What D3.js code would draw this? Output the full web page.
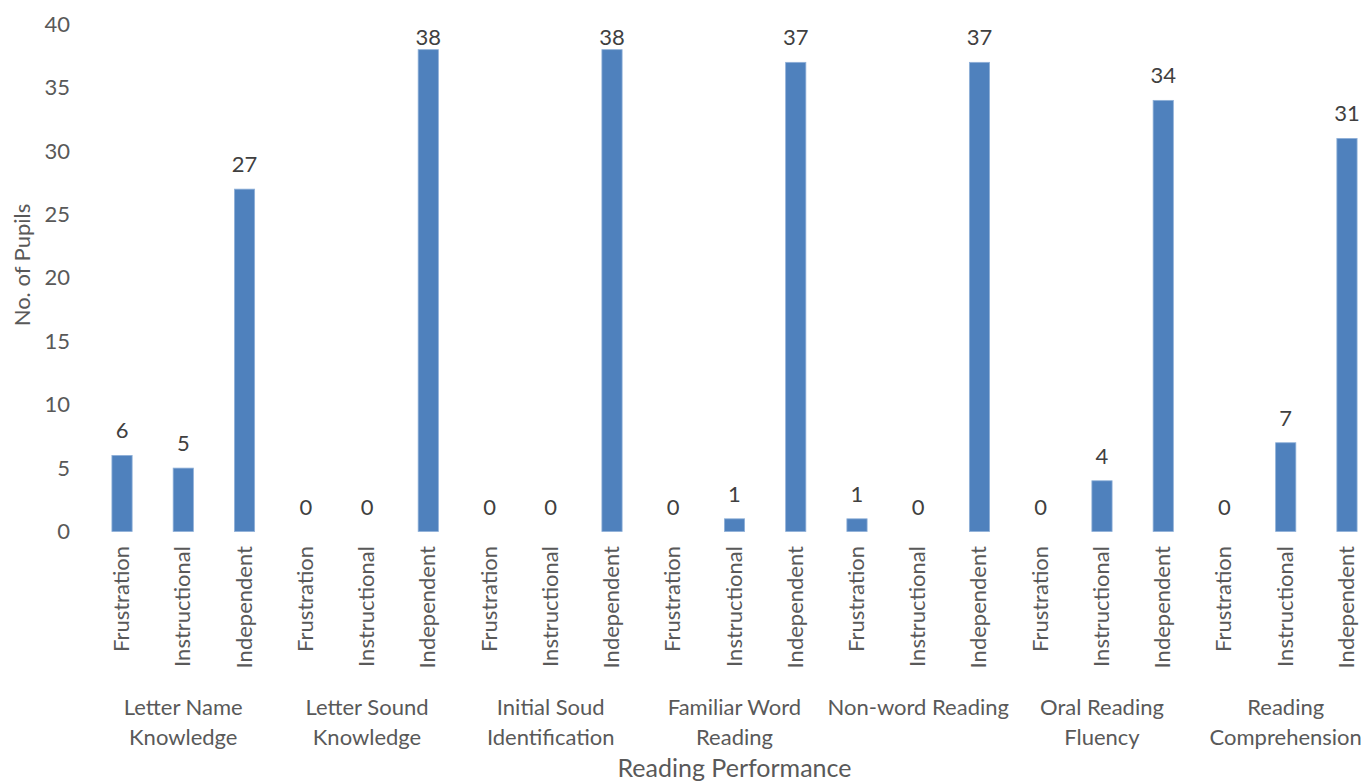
<!DOCTYPE html>
<html>
<head>
<meta charset="utf-8">
<script src="https://cdn.jsdelivr.net/npm/d3@7"></script>
<style>
  body { margin: 0; background: #fff; }
  svg { display: block; font-family: Lato, "Open Sans", sans-serif; }
</style>
</head>
<body>
<svg id="chart" width="1364" height="784"></svg>
<script>
// data
const groups = ["Letter Name Knowledge", "Letter Sound Knowledge", "Initial Soud Identification",
  "Familiar Word Reading", "Non-word Reading", "Oral Reading Fluency", "Reading Comprehension"];
const groupLines = [["Letter Name", "Knowledge"], ["Letter Sound", "Knowledge"], ["Initial Soud", "Identification"],
  ["Familiar Word", "Reading"], ["Non-word Reading"], ["Oral Reading", "Fluency"], ["Reading", "Comprehension"]];
const levels = ["Frustration", "Instructional", "Independent"];
const counts = [
  [6, 5, 27],
  [0, 0, 38],
  [0, 0, 38],
  [0, 1, 37],
  [1, 0, 37],
  [0, 4, 34],
  [0, 7, 31]
];
const yTicks = [0, 5, 10, 15, 20, 25, 30, 35, 40];

const rows = [];
groups.forEach((g, gi) => levels.forEach((l, li) => rows.push({ key: gi + "-" + li, group: gi, level: l, value: counts[gi][li] })));

const svg = d3.select("#chart");
const textCol = "#595959";
const fs = 22;

const x = d3.scaleBand()
  .domain(rows.map(d => d.key))
  .range([91.4, 1377.6])
  .paddingInner(0.67)
  .paddingOuter(0.335);

const y = d3.scaleLinear().domain([0, 40]).range([531.5, 24.3]);

// y axis labels, no axis line
const yAxis = svg.append("g")
  .attr("transform", "translate(70,0)")
  .call(d3.axisLeft(y).tickValues(yTicks).tickSize(0).tickPadding(0));
yAxis.select(".domain").remove();
yAxis.selectAll("text")
  .attr("font-family", "Lato, sans-serif")
  .attr("font-size", fs)
  .attr("fill", textCol);

// bars
svg.append("g")
  .selectAll("rect")
  .data(rows)
  .join("rect")
  .attr("x", d => x(d.key))
  .attr("y", d => y(d.value))
  .attr("width", x.bandwidth())
  .attr("height", d => y(0) - y(d.value))
  .attr("fill", "#4F81BD")
  .attr("stroke", "#8fb0d8")
  .attr("stroke-width", 0.8);

// value labels (kept inside the chart area like excel does)
svg.append("g")
  .selectAll("text")
  .data(rows)
  .join("text")
  .attr("x", d => x(d.key) + x.bandwidth() / 2)
  .attr("y", d => Math.max(y(d.value) - 17, 45))
  .attr("text-anchor", "middle")
  .attr("font-size", fs)
  .attr("fill", "#404040")
  .text(d => d.value);

// rotated level labels
svg.append("g")
  .selectAll("text")
  .data(rows)
  .join("text")
  .attr("transform", d => `translate(${x(d.key) + x.bandwidth() / 2 + 7},546) rotate(-90)`)
  .attr("text-anchor", "end")
  .attr("font-size", fs)
  .attr("fill", textCol)
  .text(d => d.level);

// group labels
const gl = svg.append("g")
  .selectAll("text")
  .data(groupLines)
  .join("text")
  .attr("text-anchor", "middle")
  .attr("font-size", fs)
  .attr("fill", textCol);
gl.each(function(lines, gi) {
  const cx = x(gi + "-1") + x.bandwidth() / 2;
  d3.select(this).selectAll("tspan")
    .data(lines)
    .join("tspan")
    .attr("x", cx)
    .attr("y", (d, i) => 715 + i * 30)
    .text(d => d);
});

// axis titles
svg.append("text")
  .attr("x", (x.range()[0] + x.range()[1]) / 2)
  .attr("y", 777)
  .attr("text-anchor", "middle")
  .attr("font-size", 25)
  .attr("fill", textCol)
  .text("Reading Performance");

svg.append("text")
  .attr("transform", "translate(30,265) rotate(-90)")
  .attr("text-anchor", "middle")
  .attr("font-size", fs)
  .attr("fill", textCol)
  .text("No. of Pupils");
</script>
</body>
</html>
